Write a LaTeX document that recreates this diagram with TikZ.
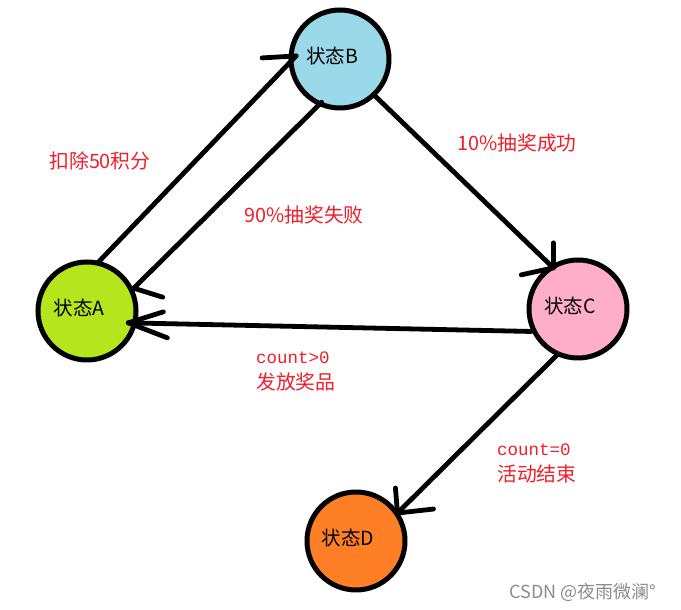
\documentclass[tikz,border=0pt]{standalone}
\usepackage{fontspec}
\setmainfont{Noto Sans CJK SC}
\newfontfamily\monofont{Liberation Mono}
\usetikzlibrary{calc}
\definecolor{cA}{HTML}{B5E61D}
\definecolor{cB}{HTML}{99D9EA}
\definecolor{cC}{HTML}{FFAEC9}
\definecolor{cD}{HTML}{FF7F27}
\definecolor{txtred}{HTML}{F01E2A}
\definecolor{wm}{RGB}{140,140,140}
\begin{document}
\begin{tikzpicture}[x=1pt,y=1pt,
  state/.style={circle,draw=black,line width=5pt,minimum size=98pt,inner sep=0pt,outer sep=0pt},
  stlbl/.style={font=\fontsize{19.5}{21}\selectfont,text=black,xshift=-8pt,yshift=3pt},
  conn/.style={line width=4.8pt,line cap=round,line join=round},
  lbl/.style={text=txtred,font=\fontsize{19.8}{22}\selectfont,inner sep=0pt},
  lbl2/.style={text=txtred,font=\fontsize{19.8}{26}\selectfont,inner sep=0pt,align=left,anchor=west}]
\useasboundingbox[fill=white] (0,0) rectangle (681,610);
\node[state,fill=cA,label={[stlbl]center:状态A}] (A) at (87,299) {};
\node[state,fill=cB,label={[stlbl]center:状态B}] (B) at (340,551) {};
\node[state,fill=cC,label={[stlbl]center:状态C}] (C) at (578,301) {};
\node[state,fill=cD,label={[stlbl]center:状态D}] (D) at (356,69) {};
% A -> B
\coordinate (s1) at ($(A)+(77:50)$);
\coordinate (t1) at ($(B)+(176:44)$);
\draw[conn] (s1) -- (t1);
\draw[conn] (t1) -- ++(-34,-2);
% B -> A
\coordinate (s2) at ($(B)+(247:47)$);
\coordinate (t2) at ($(A)+(26:52)$);
\draw[conn] (s2) -- (t2);
\draw[conn] (t2) -- ++(29,-9);
% B -> C
\coordinate (s3) at ($(B)+(-46.6:49.5)$);
\coordinate (t3) at ($(C)+(121:48)$);
\draw[conn] (s3) -- (t3);
\draw[conn] (t3) -- ++(0,25);
\draw[conn] (t3) -- ++(-32,-7);
% C -> A
\coordinate (s4) at ($(C)+(205.6:52)$);
\coordinate (t4) at ($(A)+(-16:43)$);
\draw[conn] (s4) -- (t4);
\draw[conn] (t4) -- ++(35,11);
\draw[conn] (t4) -- ++(39,-15);
% C -> D
\coordinate (s5) at ($(C)+(245.5:50.6)$);
\coordinate (t5) at ($(D)+(34:50)$);
\draw[conn] (s5) -- (t5);
\draw[conn] (t5) -- ++(-2,25);
\draw[conn] (t5) -- ++(36,4);
% labels
\node[lbl] (l1) at (100,449) {扣除50积分};
\node[lbl] (l2) at (304,395) {90\%抽奖失败};
\node[lbl] (l3) at (517,467) {10\%抽奖成功};
\node[lbl2] (l4) at (256,239) {{\monofont\fontsize{17.5}{26}\selectfont count>0}\\发放奖品};
\node[lbl2] (l5) at (497,147) {{\monofont\fontsize{17.5}{26}\selectfont count=0}\\活动结束};
\node[text=wm,font=\fontsize{18}{20}\selectfont,inner sep=0pt] (wmk) at (583,18) {CSDN @夜雨微澜°};
\end{tikzpicture}
\end{document}
